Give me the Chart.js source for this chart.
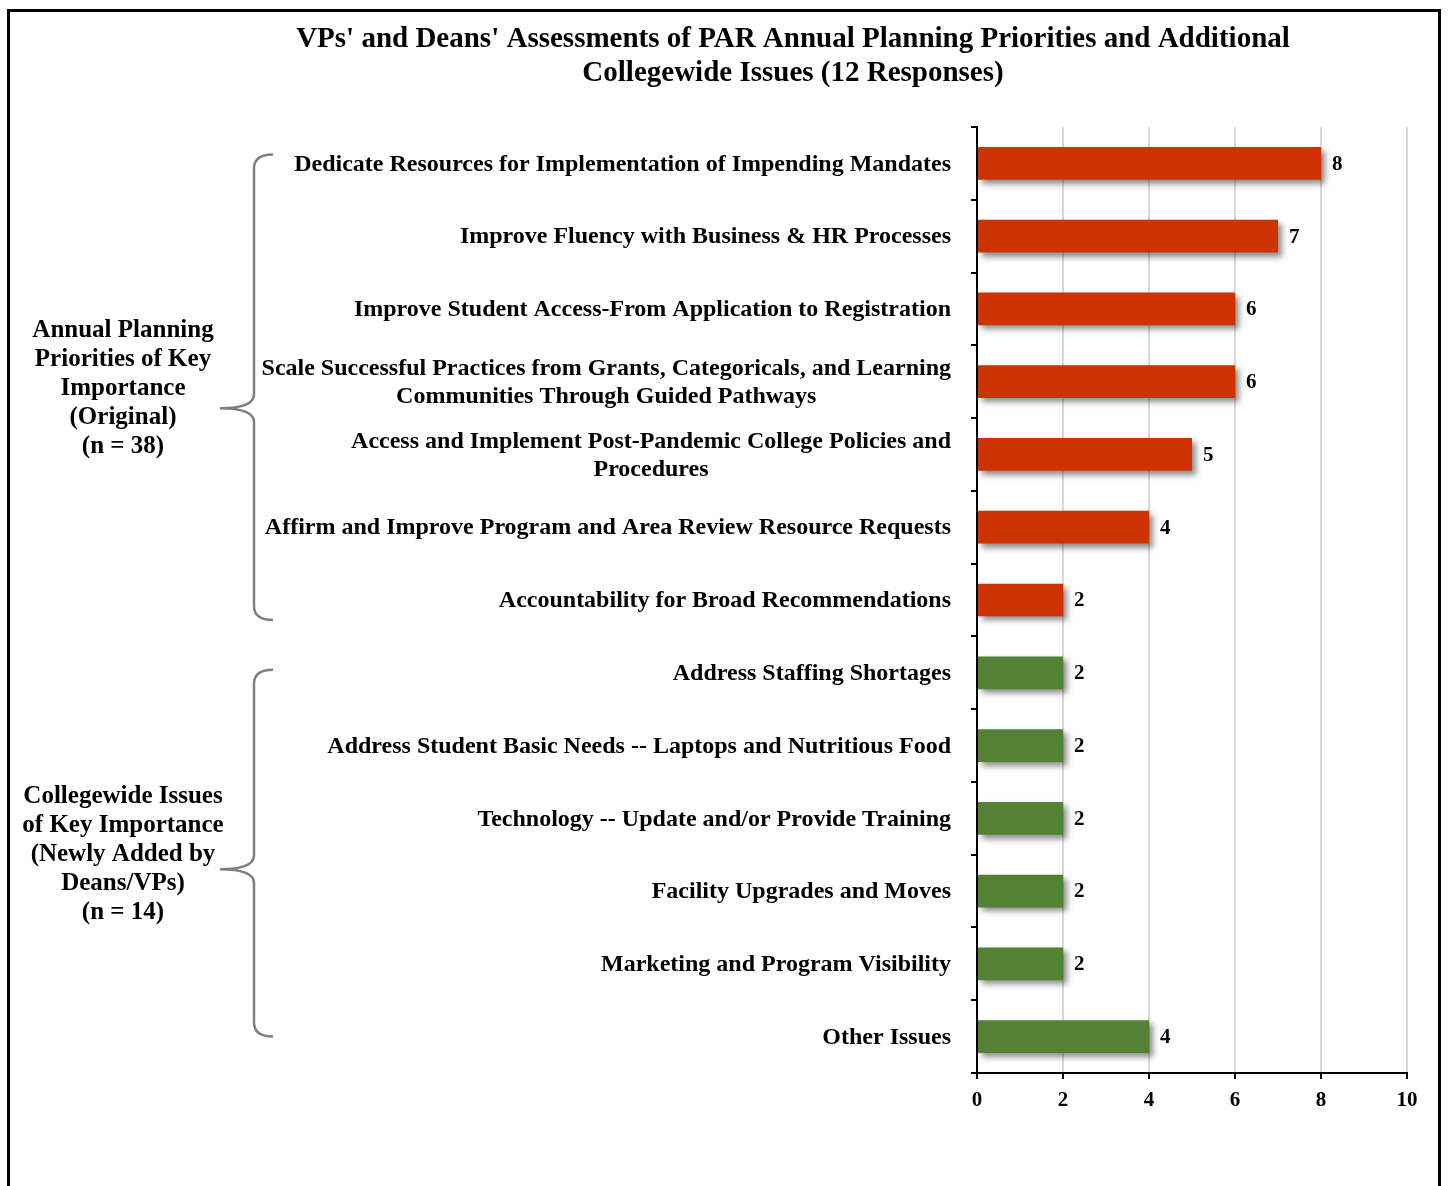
<!DOCTYPE html>
<html>
<head>
<meta charset="utf-8">
<script src="https://cdn.jsdelivr.net/npm/chart.js@4.4.1/dist/chart.umd.min.js"></script>
<style>
  html, body { margin: 0; padding: 0; background: #fff; }
  canvas { display: block; }
</style>
</head>
<body>
<canvas id="myChart" width="1448" height="1186"></canvas>
<script>
const titleLines = ["VPs' and Deans' Assessments of PAR Annual Planning Priorities and Additional",
                    "Collegewide Issues (12 Responses)"]

// one entry per bar, top to bottom
const categories = [
    ["Dedicate Resources for Implementation of Impending Mandates"],
    ["Improve Fluency with Business & HR Processes"],
    ["Improve Student Access-From Application to Registration"],
    ["Scale Successful Practices from Grants, Categoricals, and Learning", "Communities Through Guided Pathways"],
    ["Access and Implement Post-Pandemic College Policies and", "Procedures"],
    ["Affirm and Improve Program and Area Review Resource Requests"],
    ["Accountability for Broad Recommendations"],
    ["Address Staffing Shortages"],
    ["Address Student Basic Needs -- Laptops and Nutritious Food"],
    ["Technology -- Update and/or Provide Training"],
    ["Facility Upgrades and Moves"],
    ["Marketing and Program Visibility"],
    ["Other Issues"]
]
const responses = [8, 7, 6, 6, 5, 4, 2, 2, 2, 2, 2, 2, 4]
const groupOf = [0, 0, 0, 0, 0, 0, 0, 1, 1, 1, 1, 1, 1]

const groupNames = [
    ["Annual Planning", "Priorities of Key", "Importance", "(Original)", "(n = 38)"],
    ["Collegewide Issues", "of Key Importance", "(Newly Added by", "Deans/VPs)", "(n = 14)"]
]
const groupColors = ["#cc3300", "#548235"]
const xTicks = [0, 2, 4, 6, 8, 10]

const serif = "'Liberation Serif', 'Times New Roman', serif"

// bar shadows, frame, title, side labels, braces and value labels
const decorations = {
    id: "decorations",
    beforeDraw(chart){
        const ctx = chart.ctx
        ctx.save()
        ctx.fillStyle = "#fff"
        ctx.fillRect(0, 0, chart.width, chart.height)
        ctx.strokeStyle = "#000"
        ctx.lineWidth = 3
        ctx.beginPath()
        ctx.moveTo(8.5, chart.height + 5)
        ctx.lineTo(8.5, 10.5)
        ctx.lineTo(1439.5, 10.5)
        ctx.lineTo(1439.5, chart.height + 5)
        ctx.stroke()

        ctx.fillStyle = "#000"
        ctx.textAlign = "center"
        ctx.textBaseline = "middle"
        ctx.font = "bold 29px " + serif
        titleLines.forEach((t, i) => ctx.fillText(t, 793, 40 + i * 34))
        ctx.restore()
    },
    beforeDatasetsDraw(chart){
        const ctx = chart.ctx
        ctx.save()
        ctx.shadowColor = "rgba(0,0,0,0.45)"
        ctx.shadowBlur = 6
        ctx.shadowOffsetX = 4
        ctx.shadowOffsetY = 4
    },
    afterDatasetsDraw(chart){
        const ctx = chart.ctx
        ctx.restore()
        const y = chart.scales.y
        const meta = chart.getDatasetMeta(0)

        ctx.save()
        ctx.fillStyle = "#000"
        ctx.textBaseline = "middle"

        // value labels
        ctx.font = "bold 21px " + serif
        ctx.textAlign = "left"
        meta.data.forEach((bar, i) => ctx.fillText(responses[i], bar.x + 11, bar.y + 1))

        // category labels, lines centred on each other, block right aligned
        ctx.font = "bold 24px " + serif
        categories.forEach((lines, i) => {
            const cy = y.getPixelForValue(i) + 1
            const w = Math.max(...lines.map(l => ctx.measureText(l).width))
            const cx = 951 - w / 2
            ctx.textAlign = "center"
            lines.forEach((l, j) => ctx.fillText(l, cx, cy + (j - (lines.length - 1) / 2) * 28))
        })

        // group braces and names
        ctx.strokeStyle = "#7f7f7f"
        ctx.lineWidth = 2.5
        const spans = [[y.getPixelForValue(0) - 9, y.getPixelForValue(6) + 20, 21],
                       [y.getPixelForValue(7) - 3, y.getPixelForValue(12), 16]]
        spans.forEach(([top, bot, tipShift], g) => {
            const mid = (top + bot) / 2
            const tip = mid + tipShift
            const xv = 254, xe = 273, xt = 220, r = 14
            ctx.beginPath()
            ctx.moveTo(xe, top)
            ctx.quadraticCurveTo(xv, top, xv, top + r)
            ctx.lineTo(xv, tip - r)
            ctx.quadraticCurveTo(xv, tip, xt, tip)
            ctx.quadraticCurveTo(xv, tip, xv, tip + r)
            ctx.lineTo(xv, bot - r)
            ctx.quadraticCurveTo(xv, bot, xe, bot)
            ctx.stroke()

            ctx.font = "bold 25px " + serif
            ctx.textAlign = "center"
            const names = groupNames[g]
            names.forEach((l, j) => ctx.fillText(l, 123, mid + 1 + (j - (names.length - 1) / 2) * 29))
        })
        ctx.restore()
    }
}

new Chart("myChart", {
    type: "bar",
    data: {
        labels: categories,
        datasets: [{
            data: responses,
            backgroundColor: groupOf.map(g => groupColors[g]),
            barPercentage: 0.45,
            categoryPercentage: 1
        }]
    },
    options: {
        indexAxis: "y",
        responsive: false,
        animation: false,
        events: [],
        layout: { padding: { left: 969, right: 41, top: 127, bottom: 73 } },
        plugins: {
            legend: { display: false },
            title: { display: false },
            tooltip: { enabled: false }
        },
        scales: {
            x: {
                min: 0,
                max: 10,
                afterBuildTicks: s => { s.ticks = xTicks.map(v => ({ value: v })) },
                afterFit: s => { s.height = 40 },
                grid: { color: "#d9d9d9", lineWidth: 2, tickColor: "#000", tickLength: 6 },
                border: { color: "#000", width: 2 },
                ticks: { color: "#000", padding: 9, font: { family: serif, size: 21, weight: "bold" } }
            },
            y: {
                afterFit: s => { s.width = 8 },
                grid: { drawOnChartArea: false, tickColor: "#000", tickLength: 6, lineWidth: 2 },
                border: { color: "#000", width: 2 },
                ticks: { display: false }
            }
        }
    },
    plugins: [decorations]
})
</script>
</body>
</html>
